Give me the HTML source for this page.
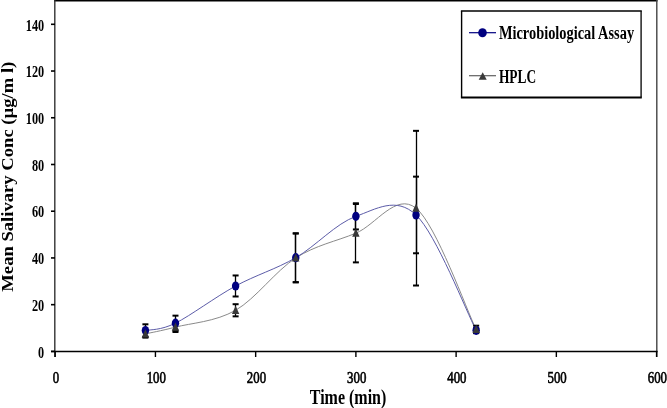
<!DOCTYPE html>
<html><head><meta charset="utf-8"><style>
html,body{margin:0;padding:0;background:#fff;width:667px;height:408px;overflow:hidden}
svg{display:block}
</style></head><body>
<svg width="667" height="408" viewBox="0 0 667 408" font-family="'Liberation Serif', serif" fill="#000"><rect x="0" y="0" width="667" height="408" fill="#fff"/>
<line x1="54" y1="0.75" x2="657.5" y2="0.75" stroke="#000" stroke-width="1.5"/>
<line x1="656.8" y1="0" x2="656.8" y2="357" stroke="#444" stroke-width="1.4"/>
<line x1="54.8" y1="0" x2="54.8" y2="357" stroke="#333" stroke-width="1.4"/>
<line x1="51" y1="351.5" x2="657.5" y2="351.5" stroke="#000" stroke-width="1.7"/>
<line x1="51" y1="351.40" x2="55" y2="351.40" stroke="#000" stroke-width="1.6"/>
<line x1="51" y1="304.67" x2="55" y2="304.67" stroke="#000" stroke-width="1.6"/>
<line x1="51" y1="257.94" x2="55" y2="257.94" stroke="#000" stroke-width="1.6"/>
<line x1="51" y1="211.22" x2="55" y2="211.22" stroke="#000" stroke-width="1.6"/>
<line x1="51" y1="164.49" x2="55" y2="164.49" stroke="#000" stroke-width="1.6"/>
<line x1="51" y1="117.76" x2="55" y2="117.76" stroke="#000" stroke-width="1.6"/>
<line x1="51" y1="71.03" x2="55" y2="71.03" stroke="#000" stroke-width="1.6"/>
<line x1="51" y1="24.30" x2="55" y2="24.30" stroke="#000" stroke-width="1.6"/>
<line x1="55.20" y1="351" x2="55.20" y2="357" stroke="#000" stroke-width="1.4"/>
<line x1="155.43" y1="351" x2="155.43" y2="357" stroke="#000" stroke-width="1.4"/>
<line x1="255.66" y1="351" x2="255.66" y2="357" stroke="#000" stroke-width="1.4"/>
<line x1="355.89" y1="351" x2="355.89" y2="357" stroke="#000" stroke-width="1.4"/>
<line x1="456.12" y1="351" x2="456.12" y2="357" stroke="#000" stroke-width="1.4"/>
<line x1="556.35" y1="351" x2="556.35" y2="357" stroke="#000" stroke-width="1.4"/>
<line x1="656.58" y1="351" x2="656.58" y2="357" stroke="#000" stroke-width="1.4"/>
<text x="44.2" y="357.60" text-anchor="end" font-size="17.6" font-weight="bold" textLength="6.1" lengthAdjust="spacingAndGlyphs">0</text>
<text x="44.2" y="310.87" text-anchor="end" font-size="17.6" font-weight="bold" textLength="12.3" lengthAdjust="spacingAndGlyphs">20</text>
<text x="44.2" y="264.14" text-anchor="end" font-size="17.6" font-weight="bold" textLength="12.3" lengthAdjust="spacingAndGlyphs">40</text>
<text x="44.2" y="217.42" text-anchor="end" font-size="17.6" font-weight="bold" textLength="12.3" lengthAdjust="spacingAndGlyphs">60</text>
<text x="44.2" y="170.69" text-anchor="end" font-size="17.6" font-weight="bold" textLength="12.3" lengthAdjust="spacingAndGlyphs">80</text>
<text x="44.2" y="123.96" text-anchor="end" font-size="17.6" font-weight="bold" textLength="18.4" lengthAdjust="spacingAndGlyphs">100</text>
<text x="44.2" y="77.23" text-anchor="end" font-size="17.6" font-weight="bold" textLength="18.4" lengthAdjust="spacingAndGlyphs">120</text>
<text x="44.2" y="30.50" text-anchor="end" font-size="17.6" font-weight="bold" textLength="18.4" lengthAdjust="spacingAndGlyphs">140</text>
<text x="56.00" y="382.5" text-anchor="middle" font-size="16.5" textLength="6.4" lengthAdjust="spacingAndGlyphs" stroke="#000" stroke-width="0.65">0</text>
<text x="156.23" y="382.5" text-anchor="middle" font-size="16.5" textLength="19.2" lengthAdjust="spacingAndGlyphs" stroke="#000" stroke-width="0.65">100</text>
<text x="256.46" y="382.5" text-anchor="middle" font-size="16.5" textLength="19.2" lengthAdjust="spacingAndGlyphs" stroke="#000" stroke-width="0.65">200</text>
<text x="356.69" y="382.5" text-anchor="middle" font-size="16.5" textLength="19.2" lengthAdjust="spacingAndGlyphs" stroke="#000" stroke-width="0.65">300</text>
<text x="456.92" y="382.5" text-anchor="middle" font-size="16.5" textLength="19.2" lengthAdjust="spacingAndGlyphs" stroke="#000" stroke-width="0.65">400</text>
<text x="557.15" y="382.5" text-anchor="middle" font-size="16.5" textLength="19.2" lengthAdjust="spacingAndGlyphs" stroke="#000" stroke-width="0.65">500</text>
<text x="657.38" y="382.5" text-anchor="middle" font-size="16.5" textLength="19.2" lengthAdjust="spacingAndGlyphs" stroke="#000" stroke-width="0.65">600</text>
<text x="309.8" y="404.1" font-size="21" font-weight="bold" textLength="76.5" lengthAdjust="spacingAndGlyphs">Time (min)</text>
<text transform="translate(12.5,291.7) rotate(-90)" x="0" y="0" font-size="16.6" font-weight="bold" textLength="230" lengthAdjust="spacingAndGlyphs">Mean Salivary Conc (µg/m l)</text>
<path d="M145.41,333.88 C150.42,332.75 160.44,331.03 175.48,327.10 C190.51,323.17 215.57,321.81 235.61,310.28 C255.66,298.75 275.71,270.79 295.75,257.94 C315.80,245.09 335.84,241.47 355.89,233.18 C375.94,224.88 395.98,192.14 416.03,208.18 C436.07,224.22 466.14,309.23 476.17,329.44" fill="none" stroke="#8a8a8a" stroke-width="1.0"/>
<path d="M145.41,330.61 C150.42,329.36 160.44,330.57 175.48,323.13 C190.51,315.69 215.57,296.88 235.61,285.98 C255.66,275.08 275.71,269.31 295.75,257.71 C315.80,246.11 335.84,223.48 355.89,216.36 C375.94,209.23 395.98,195.95 416.03,214.95 C436.07,233.96 466.14,311.14 476.17,330.37" fill="none" stroke="#5c5ca8" stroke-width="1.0"/>
<line x1="145.50" y1="330.14" x2="145.50" y2="337.62" stroke="#000" stroke-width="1.3"/><line x1="142.41" y1="330.14" x2="148.41" y2="330.14" stroke="#000" stroke-width="2"/><line x1="142.41" y1="337.62" x2="148.41" y2="337.62" stroke="#000" stroke-width="2"/>
<line x1="175.50" y1="322.19" x2="175.50" y2="332.01" stroke="#000" stroke-width="1.3"/><line x1="172.48" y1="322.19" x2="178.48" y2="322.19" stroke="#000" stroke-width="2"/><line x1="172.48" y1="332.01" x2="178.48" y2="332.01" stroke="#000" stroke-width="2"/>
<line x1="235.50" y1="304.20" x2="235.50" y2="316.35" stroke="#000" stroke-width="1.3"/><line x1="232.61" y1="304.20" x2="238.61" y2="304.20" stroke="#000" stroke-width="2"/><line x1="232.61" y1="316.35" x2="238.61" y2="316.35" stroke="#000" stroke-width="2"/>
<line x1="295.50" y1="233.53" x2="295.50" y2="282.36" stroke="#000" stroke-width="1.3"/><line x1="292.75" y1="233.53" x2="298.75" y2="233.53" stroke="#000" stroke-width="2"/><line x1="292.75" y1="282.36" x2="298.75" y2="282.36" stroke="#000" stroke-width="2"/>
<line x1="355.50" y1="203.97" x2="355.50" y2="262.38" stroke="#000" stroke-width="1.3"/><line x1="352.89" y1="203.97" x2="358.89" y2="203.97" stroke="#000" stroke-width="2"/><line x1="352.89" y1="262.38" x2="358.89" y2="262.38" stroke="#000" stroke-width="2"/>
<line x1="416.50" y1="130.84" x2="416.50" y2="285.51" stroke="#000" stroke-width="1.3"/><line x1="413.03" y1="130.84" x2="419.03" y2="130.84" stroke="#000" stroke-width="2"/><line x1="413.03" y1="285.51" x2="419.03" y2="285.51" stroke="#000" stroke-width="2"/>
<line x1="476.50" y1="325.70" x2="476.50" y2="333.18" stroke="#000" stroke-width="1.3"/><line x1="473.17" y1="325.70" x2="479.17" y2="325.70" stroke="#000" stroke-width="2"/><line x1="473.17" y1="333.18" x2="479.17" y2="333.18" stroke="#000" stroke-width="2"/>
<line x1="145.50" y1="324.30" x2="145.50" y2="336.91" stroke="#000" stroke-width="1.3"/><line x1="142.41" y1="324.30" x2="148.41" y2="324.30" stroke="#000" stroke-width="2"/><line x1="142.41" y1="336.91" x2="148.41" y2="336.91" stroke="#000" stroke-width="2"/>
<line x1="175.50" y1="315.65" x2="175.50" y2="330.61" stroke="#000" stroke-width="1.3"/><line x1="172.48" y1="315.65" x2="178.48" y2="315.65" stroke="#000" stroke-width="2"/><line x1="172.48" y1="330.61" x2="178.48" y2="330.61" stroke="#000" stroke-width="2"/>
<line x1="235.50" y1="275.47" x2="235.50" y2="296.49" stroke="#000" stroke-width="1.3"/><line x1="232.61" y1="275.47" x2="238.61" y2="275.47" stroke="#000" stroke-width="2"/><line x1="232.61" y1="296.49" x2="238.61" y2="296.49" stroke="#000" stroke-width="2"/>
<line x1="295.50" y1="233.29" x2="295.50" y2="282.13" stroke="#000" stroke-width="1.3"/><line x1="292.75" y1="233.29" x2="298.75" y2="233.29" stroke="#000" stroke-width="2"/><line x1="292.75" y1="282.13" x2="298.75" y2="282.13" stroke="#000" stroke-width="2"/>
<line x1="355.50" y1="203.27" x2="355.50" y2="229.44" stroke="#000" stroke-width="1.3"/><line x1="352.89" y1="203.27" x2="358.89" y2="203.27" stroke="#000" stroke-width="2"/><line x1="352.89" y1="229.44" x2="358.89" y2="229.44" stroke="#000" stroke-width="2"/>
<line x1="416.50" y1="176.64" x2="416.50" y2="253.27" stroke="#000" stroke-width="1.3"/><line x1="413.03" y1="176.64" x2="419.03" y2="176.64" stroke="#000" stroke-width="2"/><line x1="413.03" y1="253.27" x2="419.03" y2="253.27" stroke="#000" stroke-width="2"/>
<line x1="476.50" y1="328.04" x2="476.50" y2="332.71" stroke="#000" stroke-width="1.3"/><line x1="473.17" y1="328.04" x2="479.17" y2="328.04" stroke="#000" stroke-width="2"/><line x1="473.17" y1="332.71" x2="479.17" y2="332.71" stroke="#000" stroke-width="2"/>
<ellipse cx="145.41" cy="330.61" rx="3.7" ry="4.6" fill="#000080"/>
<ellipse cx="175.48" cy="323.13" rx="3.7" ry="4.6" fill="#000080"/>
<ellipse cx="235.61" cy="285.98" rx="3.7" ry="4.6" fill="#000080"/>
<ellipse cx="295.75" cy="257.71" rx="3.7" ry="4.6" fill="#000080"/>
<ellipse cx="355.89" cy="216.36" rx="3.7" ry="4.6" fill="#000080"/>
<ellipse cx="416.03" cy="214.95" rx="3.7" ry="4.6" fill="#000080"/>
<ellipse cx="476.17" cy="330.37" rx="3.7" ry="4.6" fill="#000080"/>
<polygon points="145.41,329.28 141.71,337.48 149.11,337.48" fill="#383838"/>
<polygon points="175.48,322.50 171.78,330.70 179.18,330.70" fill="#383838"/>
<polygon points="235.61,305.68 231.91,313.88 239.31,313.88" fill="#383838"/>
<polygon points="295.75,253.34 292.05,261.54 299.45,261.54" fill="#383838"/>
<polygon points="355.89,228.58 352.19,236.78 359.59,236.78" fill="#383838"/>
<polygon points="416.03,203.58 412.33,211.78 419.73,211.78" fill="#383838"/>
<polygon points="476.17,324.84 472.47,333.04 479.87,333.04" fill="#383838"/>
<rect x="461.6" y="11" width="179.5" height="86.5" fill="#fff" stroke="none"/>
<line x1="460.9" y1="11" x2="641.8" y2="11" stroke="#000" stroke-width="1.6"/>
<line x1="460.9" y1="97.5" x2="641.8" y2="97.5" stroke="#000" stroke-width="1.8"/>
<line x1="461.6" y1="11" x2="461.6" y2="97.5" stroke="#000" stroke-width="1.4"/>
<line x1="641.1" y1="11" x2="641.1" y2="97.5" stroke="#111" stroke-width="1.4"/>
<line x1="469" y1="32.7" x2="496" y2="32.7" stroke="#000080" stroke-width="1.2"/>
<ellipse cx="482.5" cy="32.7" rx="4.3" ry="4.5" fill="#000080"/>
<text x="498.9" y="38.7" font-size="18" font-weight="bold" textLength="135.2" lengthAdjust="spacingAndGlyphs">Microbiological Assay</text>
<line x1="469" y1="75.7" x2="496" y2="75.7" stroke="#606060" stroke-width="1.2"/>
<polygon points="482.7,72.3 478.7,79.8 486.7,79.8" fill="#3a3a3a"/>
<text x="498.9" y="82.5" font-size="18" font-weight="bold" textLength="37.2" lengthAdjust="spacingAndGlyphs">HPLC</text></svg>
</body></html>
